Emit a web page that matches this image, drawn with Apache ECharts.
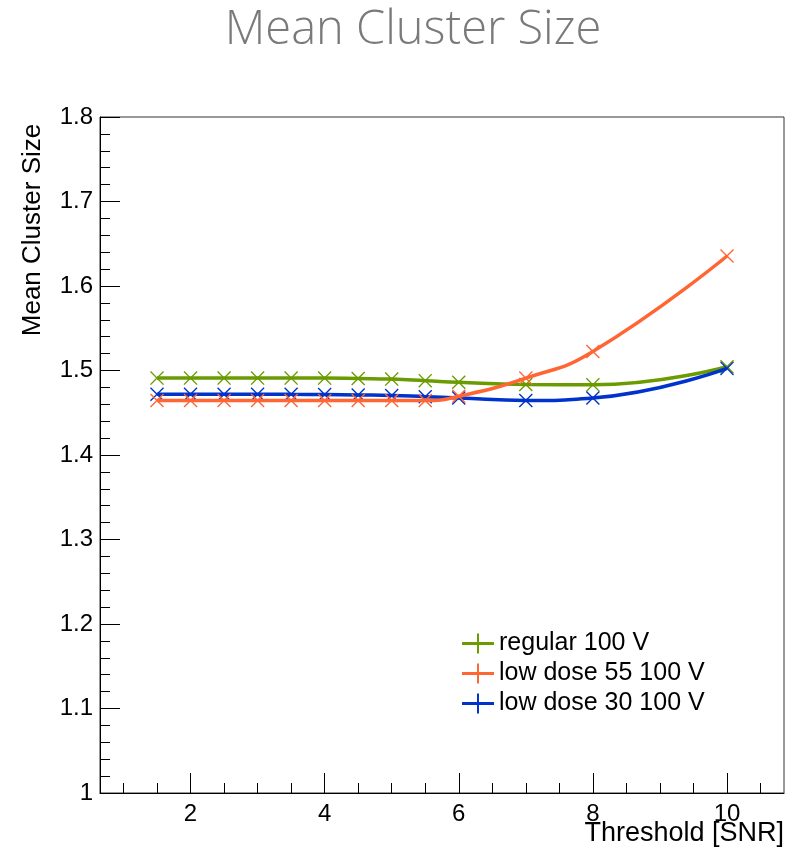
<!DOCTYPE html>
<html>
<head>
<meta charset="utf-8">
<script src="https://cdn.jsdelivr.net/npm/echarts@6/dist/echarts.min.js"></script>
<style>
  html, body { margin: 0; padding: 0; background: #fff; }
  #chart { width: 789px; height: 855px; }
</style>
</head>
<body>
<div id="chart"></div>
<script>
// Threshold values (SNR)
const thresholds = [1.5, 2, 2.5, 3, 3.5, 4, 4.5, 5, 5.5, 6, 7, 8, 10];

// Mean cluster size per sensor
const regular100 = [1.491, 1.491, 1.491, 1.491, 1.491, 1.491, 1.4905, 1.4898, 1.488, 1.486, 1.4835, 1.483, 1.5045];
const lowDose55 = [1.4645, 1.4645, 1.4645, 1.4645, 1.4645, 1.4645, 1.4645, 1.4645, 1.4645, 1.4695, 1.491, 1.5225, 1.6355];
const lowDose30 = [1.472, 1.472, 1.472, 1.472, 1.4718, 1.4715, 1.471, 1.4705, 1.469, 1.4675, 1.4645, 1.4675, 1.5025];

const seriesNames = ['regular 100 V', 'low dose 55 100 V', 'low dose 30 100 V'];
const seriesColors = ['#6a9b00', '#ff6633', '#0033cc'];
const seriesZ = [2, 4, 3];

// Axis ticks
const xMajorTicks = [2, 4, 6, 8, 10];
const xMinorTicks = [1, 1.5, 2.5, 3, 3.5, 4.5, 5, 5.5, 6.5, 7, 7.5, 8.5, 9, 9.5, 10.5];

const FONT = 'Liberation Sans';
const crossMarker = 'path://M0,1.4 L1.4,0 L10,8.6 L18.6,0 L20,1.4 L11.4,10 L20,18.6 L18.6,20 L10,11.4 L1.4,20 L0,18.6 L8.6,10 Z';
const legendIcon = 'path://M0,8.5 H32 V11.5 H0 Z M15,0 H17 V20 H15 Z';

function pairs(xs, ys) { return xs.map((x, i) => [x, ys[i]]); }

const allValues = [regular100, lowDose55, lowDose30];

const chart = echarts.init(document.getElementById('chart'), null, { renderer: 'canvas' });

chart.setOption({
  animation: false,
  backgroundColor: '#ffffff',
  grid: {
    left: 100, top: 117, right: 5, bottom: 62,
    show: true, borderColor: '#333', borderWidth: 1, backgroundColor: 'transparent'
  },
  graphic: [
    {
      type: 'text', x: 413, y: 31,
      style: { text: 'Mean Cluster Size', font: '300 47px "Open Sans"', fill: '#7a7a7a', align: 'center', verticalAlign: 'middle' }
    },
    {
      type: 'text', x: 33, y: 230, rotation: Math.PI / 2,
      style: { text: 'Mean Cluster Size', font: '26px "Liberation Sans"', fill: '#000', align: 'center', verticalAlign: 'middle' }
    },
    {
      type: 'text', x: 784, y: 834,
      style: { text: 'Threshold [SNR]', font: '27px "Liberation Sans"', fill: '#000', align: 'right', verticalAlign: 'middle' }
    }
  ],
  legend: {
    orient: 'vertical',
    left: 462, top: 631,
    padding: 0,
    itemGap: 5,
    itemWidth: 32, itemHeight: 20,
    icon: legendIcon,
    textStyle: { fontFamily: FONT, fontSize: 25, color: '#000' },
    data: seriesNames
  },
  xAxis: [
    {
      type: 'value', min: 0.65, max: 10.85,
      splitLine: { show: false },
      axisLine: { show: true, lineStyle: { color: '#000', width: 1 } },
      axisTick: { show: true, inside: true, length: 20, customValues: xMajorTicks, lineStyle: { color: '#000' } },
      axisLabel: { customValues: xMajorTicks, fontFamily: FONT, fontSize: 24, color: '#000', margin: 9 }
    },
    {
      type: 'value', min: 0.65, max: 10.85, position: 'bottom',
      splitLine: { show: false },
      axisLine: { show: false },
      axisTick: { show: true, inside: true, length: 10, customValues: xMinorTicks, lineStyle: { color: '#000' } },
      axisLabel: { show: false }
    }
  ],
  yAxis: {
    type: 'value', min: 1, max: 1.8, interval: 0.1,
    splitLine: { show: false },
    axisLine: { show: true, lineStyle: { color: '#000', width: 1 } },
    axisTick: { show: true, inside: true, length: 20, lineStyle: { color: '#000' } },
    minorTick: { show: true, splitNumber: 5, length: 10, lineStyle: { color: '#000' } },
    axisLabel: {
      fontFamily: FONT, fontSize: 24, color: '#000', margin: 7,
      formatter: v => String(Math.round(v * 10) / 10)
    }
  },
  series: seriesNames.map((name, i) => ({
    name: name,
    type: 'line',
    xAxisIndex: 0,
    data: pairs(thresholds, allValues[i]),
    smooth: true,
    symbol: crossMarker,
    symbolSize: 14,
    showAllSymbol: true,
    color: seriesColors[i],
    itemStyle: { color: seriesColors[i] },
    lineStyle: { color: seriesColors[i], width: 3.5 },
    z: seriesZ[i]
  }))
});
</script>
</body>
</html>
